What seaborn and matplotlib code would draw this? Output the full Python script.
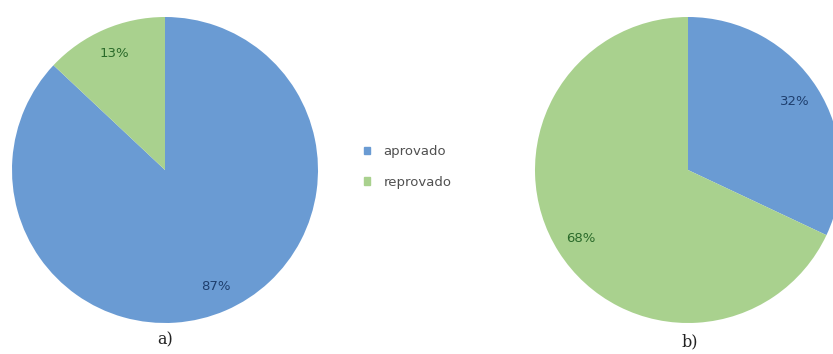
import matplotlib
matplotlib.use('Agg')
import matplotlib.pyplot as plt
import matplotlib.patches as mpatches
import seaborn as sns

categories = ['aprovado', 'reprovado']
values_a = [87, 13]
values_b = [32, 68]
panel_labels = ['a)', 'b)']

sns.set_theme(style="white")
palette = sns.color_palette(['#6a9bd3', '#a9d18e'])
text_colors = ['#1f3f6e', '#2a6a2a']

fig = plt.figure(figsize=(8.33, 3.54), dpi=100)
ax_a = fig.add_axes([12 / 833, 31 / 354, 306 / 833, 306 / 354])
ax_b = fig.add_axes([535 / 833, 31 / 354, 306 / 833, 306 / 354])

for ax, vals in [(ax_a, values_a), (ax_b, values_b)]:
    wedges, texts, autotexts = ax.pie(vals, colors=palette, startangle=90,
                                      counterclock=False, autopct='%1.0f%%',
                                      pctdistance=0.83, radius=1.0,
                                      wedgeprops={'linewidth': 0},
                                      textprops={'fontsize': 9.5})
    for t, c in zip(autotexts, text_colors):
        t.set_color(c)
    ax.set_xlim(-1, 1)
    ax.set_ylim(-1, 1)
    ax.set_aspect('equal')
    ax.axis('off')

fig.text(165 / 833, 1 - 340 / 354, panel_labels[0], ha='center', va='center',
         family='DejaVu Serif', fontsize=11.5, color='#222222')
fig.text(690 / 833, 1 - 342 / 354, panel_labels[1], ha='center', va='center',
         family='DejaVu Serif', fontsize=11.5, color='#222222')

handles = [mpatches.Patch(color=c, label=l) for c, l in zip(palette, categories)]
fig.legend(handles=handles, loc='center left', bbox_to_anchor=(352 / 833, 1 - 167 / 354),
           frameon=False, fontsize=9.5, handlelength=0.5, handleheight=0.5,
           handletextpad=1.0, labelspacing=1.35, labelcolor='#505050')

fig.savefig('out.png', dpi=100)
